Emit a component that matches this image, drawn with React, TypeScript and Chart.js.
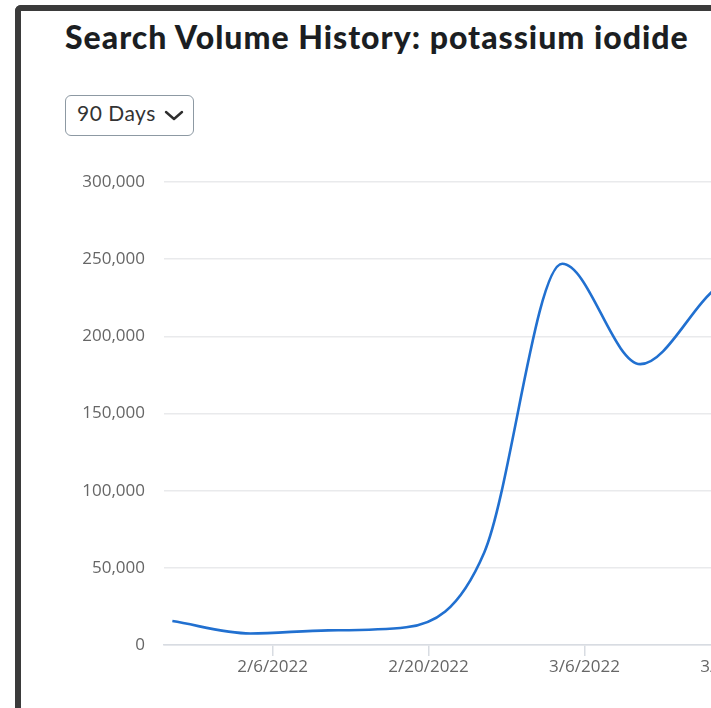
import React, { useEffect, useRef } from "react";
import { Chart, registerables } from "chart.js";

Chart.register(...registerables);

// ---- Data ----
const TITLE = "Search Volume History: potassium iodide";
const RANGE_LABEL = "90 Days";
const BASE_DATE = "2022-01-28";
const dates = [
  "2022-01-28",
  "2022-02-04",
  "2022-02-11",
  "2022-02-18",
  "2022-02-25",
  "2022-03-04",
  "2022-03-11",
  "2022-03-18",
  "2022-03-25",
];
const volumes = [15500, 7500, 9500, 11500, 60000, 247000, 182000, 232000, 250000];
const xTickDates = ["2022-02-06", "2022-02-20", "2022-03-06", "2022-03-20"];
const xTickLabels = ["2/6/2022", "2/20/2022", "3/6/2022", "3/20/2022"];
const yMin = 0;
const yMax = 300000;
const yStep = 50000;

function dayOffset(iso: string): number {
  const [y, m, d] = iso.split("-").map(Number);
  const [by, bm, bd] = BASE_DATE.split("-").map(Number);
  return (Date.UTC(y, m - 1, d) - Date.UTC(by, bm - 1, bd)) / 86400000;
}

const X_MIN = -0.75;
const X_MAX = 57;

export default function App() {
  const canvasRef = useRef<HTMLCanvasElement | null>(null);

  useEffect(() => {
    const canvas = canvasRef.current;
    if (!canvas) return;
    const tickValues = xTickDates.map(dayOffset);
    const tickFont = { family: "'Open Sans', sans-serif", size: 17 };
    const chart = new Chart(canvas, {
      type: "line",
      data: {
        datasets: [
          {
            data: dates.map((d, i) => ({ x: dayOffset(d), y: volumes[i] })),
            borderColor: "#2170d0",
            borderWidth: 2.6,
            pointRadius: 0,
            pointHoverRadius: 0,
            cubicInterpolationMode: "monotone",
            fill: false,
          },
        ],
      },
      options: {
        animation: false,
        responsive: false,
        devicePixelRatio: 1,
        layout: { padding: { top: 22, right: 12.7, bottom: 0, left: 0 } },
        plugins: { legend: { display: false }, tooltip: { enabled: false } },
        scales: {
          x: {
            type: "linear",
            min: X_MIN,
            max: X_MAX,
            afterBuildTicks: (scale: any) => {
              scale.ticks = tickValues.map((v) => ({ value: v }));
            },
            afterFit: (scale: any) => {
              scale.height = 63;
              scale.paddingLeft = 0;
              scale.paddingRight = 0;
            },
            ticks: {
              autoSkip: false,
              maxRotation: 0,
              padding: 1,
              color: "#666666",
              font: tickFont,
              callback: (value: any) => {
                const idx = tickValues.indexOf(Number(value));
                return idx >= 0 ? xTickLabels[idx] : "";
              },
            },
            grid: {
              drawOnChartArea: false,
              drawTicks: true,
              tickLength: 11,
              color: "#d8dce2",
              lineWidth: 1.5,
            },
            border: { display: true, color: "#d8dce2", width: 1.5 },
          },
          y: {
            type: "linear",
            min: yMin,
            max: yMax,
            afterFit: (scale: any) => {
              scale.width = 104;
              scale.paddingTop = 0;
              scale.paddingBottom = 0;
            },
            ticks: {
              stepSize: yStep,
              padding: 19,
              color: "#666666",
              font: tickFont,
              callback: (value: any) => Number(value).toLocaleString("en-US"),
            },
            grid: { drawTicks: false, color: "#e9eaec", lineWidth: 1.5 },
            border: { display: false },
          },
        },
      },
    } as any);
    return () => chart.destroy();
  }, []);

  return (
    <div
      style={{
        position: "fixed",
        left: 0,
        top: 0,
        width: 711,
        height: 708,
        overflow: "hidden",
        background: "#ffffff",
      }}
    >
      <div
        style={{
          position: "absolute",
          left: 15,
          top: 5,
          width: 760,
          height: 760,
          borderLeft: "6px solid #3b3b3b",
          borderTop: "6px solid #3b3b3b",
          borderTopLeftRadius: 6,
          boxSizing: "border-box",
        }}
      />
      <div
        style={{
          position: "absolute",
          left: 65,
          top: 18,
          whiteSpace: "nowrap",
          fontFamily: "Lato, sans-serif",
          fontWeight: 900,
          fontSize: 32,
          letterSpacing: "1px",
          lineHeight: "38px",
          color: "#1b1e22",
        }}
      >
        {TITLE}
      </div>
      <div
        style={{
          position: "absolute",
          left: 65,
          top: 95,
          width: 129,
          height: 41,
          boxSizing: "border-box",
          border: "1px solid #8d99a3",
          borderRadius: 6,
        }}
      />
      <div
        style={{
          position: "absolute",
          left: 77,
          top: 100,
          whiteSpace: "nowrap",
          fontFamily: "Lato, sans-serif",
          fontSize: 21,
          letterSpacing: "0.5px",
          lineHeight: "25px",
          color: "#333333",
        }}
      >
        {RANGE_LABEL}
      </div>
      <svg
        style={{ position: "absolute", left: 163, top: 108 }}
        width={22}
        height={14}
        viewBox="0 0 22 14"
      >
        <polyline
          points="3,4 11,11 19,4"
          fill="none"
          stroke="#2e2e2e"
          strokeWidth={2.4}
          strokeLinecap="round"
          strokeLinejoin="round"
        />
      </svg>
      <canvas
        ref={canvasRef}
        width={760}
        height={548}
        style={{ position: "absolute", left: 60, top: 160, width: 760, height: 548 }}
      />
    </div>
  );
}
